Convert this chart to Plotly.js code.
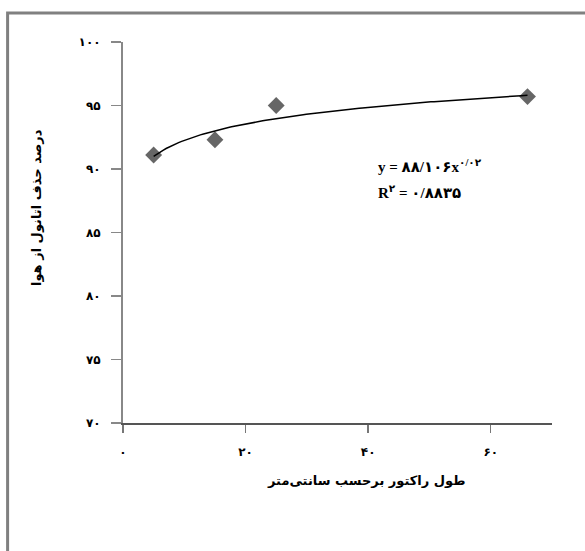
<!DOCTYPE html>
<html>
<head>
<meta charset="utf-8">
<script src="https://cdn.plot.ly/plotly-3.0.1.min.js"></script>
<style>html,body{margin:0;padding:0;background:#fff;}#chart{width:585px;height:551px;}</style>
</head>
<body>
<div id="chart"></div>
<script>
// Data
const reactorLength = [5, 15, 25, 66];
const removalPercent = [91.1, 92.3, 95.0, 95.7];

// Trendline coefficients shown on the chart: y = 88.106 x^0.02
const trendA = 88.106;
const trendB = 0.02;

const xTickVals = [0, 20, 40, 60];
const xTickText = ['۰', '۲۰', '۴۰', '۶۰'];
const yTickVals = [70, 75, 80, 85, 90, 95, 100];
const yTickText = ['۷۰', '۷۵', '۸۰', '۸۵', '۹۰', '۹۵', '۱۰۰'];

const xTitle = 'طول راکتور برحسب سانتی‌متر';
const yTitle = 'درصد حذف اتانول از هوا';
const eqText = '<b>y = ۸۸/۱۰۶x<sup>۰/۰۲</sup></b>';
const r2Text = '<b>R<sup>۲</sup> = ۰/۸۸۳۵</b>';

// trendline sampled from the fitted equation over the data span
const trendX = [];
const trendY = [];
const x0 = Math.min(...reactorLength), x1 = Math.max(...reactorLength);
for (let i = 0; i <= 120; i++) {
  const x = x0 + (x1 - x0) * i / 120;
  trendX.push(x);
  trendY.push(trendA * Math.pow(x, trendB));
}

const fontFam = '"DejaVu Sans", "Liberation Sans", sans-serif';

const data = [
  {
    x: reactorLength, y: removalPercent, type: 'scatter', mode: 'markers',
    marker: {symbol: 'diamond', size: 13, color: '#666666', line: {width: 0}},
    hoverinfo: 'none'
  },
  {
    x: trendX, y: trendY, type: 'scatter', mode: 'lines',
    line: {color: '#000000', width: 1.5},
    hoverinfo: 'none'
  }
];

const layout = {
  width: 585, height: 551,
  margin: {l: 123, r: 33, t: 42, b: 128},
  paper_bgcolor: '#ffffff', plot_bgcolor: '#ffffff',
  showlegend: false,
  font: {family: fontFam, color: '#000'},
  xaxis: {
    range: [0, 70], showgrid: false, zeroline: false,
    showline: true, linecolor: '#555555', linewidth: 2,
    ticks: 'outside', ticklen: 8, tickwidth: 1.5, tickcolor: '#777777',
    tickvals: xTickVals, ticktext: xTickText,
    tickfont: {family: fontFam, size: 12, color: '#000', weight: 'bold'},
    ticklabelstandoff: 9
  },
  yaxis: {
    range: [70, 100], showgrid: false, zeroline: false,
    showline: true, linecolor: '#888888', linewidth: 2,
    ticks: 'outside', ticklen: 10, tickwidth: 1.5, tickcolor: '#888888',
    tickvals: yTickVals, ticktext: yTickText,
    tickfont: {family: fontFam, size: 12, color: '#000', weight: 'bold'},
    ticklabelstandoff: 8
  },
  shapes: [
    {type: 'rect', xref: 'paper', yref: 'paper',
     x0: -0.269, x1: 1.3, y0: -0.6, y1: 1.076,
     line: {color: '#808080', width: 3}, fillcolor: 'rgba(0,0,0,0)'}
  ],
  annotations: [
    {xref: 'paper', yref: 'paper', x: (366 - 123) / 429, y: (423 - 480) / 381,
     text: '<b>' + xTitle + '</b>', showarrow: false, xanchor: 'center', yanchor: 'middle',
     font: {family: fontFam, size: 13, color: '#000'}},
    {xref: 'paper', yref: 'paper', x: (36 - 123) / 429, y: (423 - 208) / 381,
     text: '<b>' + yTitle + '</b>', showarrow: false, textangle: -90,
     xanchor: 'center', yanchor: 'middle',
     font: {family: fontFam, size: 13, color: '#000'}},
    {xref: 'paper', yref: 'paper', x: (376 - 123) / 429, y: (423 - 166) / 381,
     text: eqText, showarrow: false, xanchor: 'left', yanchor: 'middle',
     font: {family: '"Liberation Serif", "DejaVu Sans", serif', size: 15, color: '#000'}},
    {xref: 'paper', yref: 'paper', x: (376 - 123) / 429, y: (423 - 192) / 381,
     text: r2Text, showarrow: false, xanchor: 'left', yanchor: 'middle',
     font: {family: '"Liberation Serif", "DejaVu Sans", serif', size: 15, color: '#000'}}
  ]
};

Plotly.newPlot('chart', data, layout, {staticPlot: true, displayModeBar: false});
</script>
</body>
</html>
